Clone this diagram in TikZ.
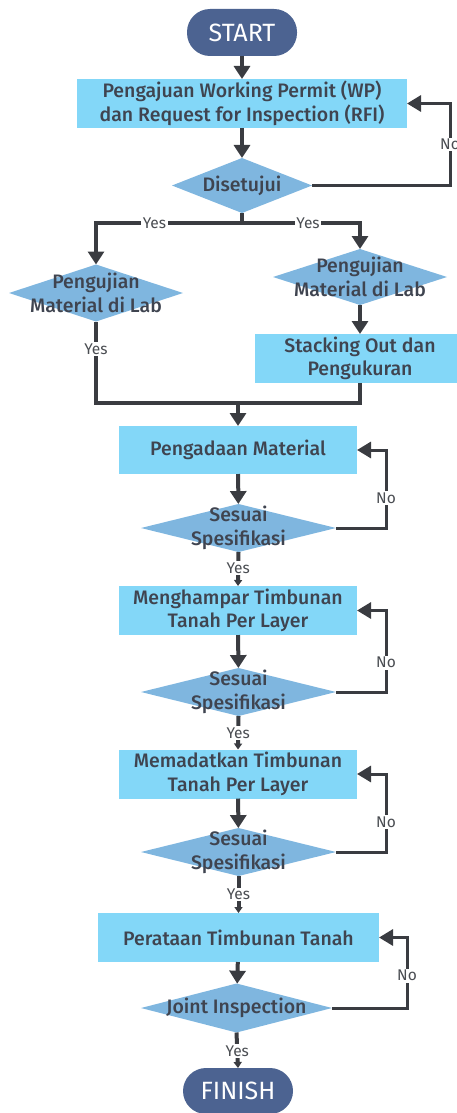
\documentclass[tikz,border=0pt]{standalone}
\usepackage{fontspec}
\setmainfont{Fira Sans}[UprightFont=* Medium]
\newfontfamily\lblfont{Fira Sans}
\usetikzlibrary{shapes.geometric, arrows.meta}
\definecolor{termblue}{HTML}{4C6391}
\definecolor{boxblue}{HTML}{83D7F8}
\definecolor{diablue}{HTML}{7FB6DF}
\definecolor{inkgray}{HTML}{3F4450}
\definecolor{linegray}{HTML}{3A3C41}
\definecolor{lblgray}{HTML}{4A4D52}

\begin{document}
\begin{tikzpicture}[
    x=1pt, y=-1pt,
    every node/.style={inner sep=0pt, outer sep=0pt},
    term/.style={fill=termblue, rounded corners=23pt, minimum width=110pt, minimum height=47pt,
      text=white, font=\lblfont\fontsize{25}{29}\selectfont},
    proc/.style={fill=boxblue, minimum height=49pt, text=inkgray, align=center,
      font=\fontsize{19.5}{23.5}\selectfont},
    dec/.style={diamond, fill=diablue},
    dtxt/.style={text=inkgray, align=center, font=\fontsize{19.5}{23.5}\selectfont},
    link/.style={draw=linegray, line width=3.2pt},
    arr/.style={draw=linegray, line width=4pt, -{Triangle[width=16pt,length=13pt]}},
    back/.style={draw=linegray, line width=3pt, -{Triangle[width=16pt,length=14pt]}},
    yesarr/.style={draw=linegray, line width=4pt, -{Triangle[width=8pt,length=6pt]}},
    lbl/.style={fill=white, text=lblgray, inner sep=1.5pt, font=\lblfont\fontsize{15.5}{17}\selectfont}
  ]
  \useasboundingbox (0,0) rectangle (456,1113);

  \node[term] (start) at (242,32.5) {START};
  \node[proc, minimum width=330pt] (wp) at (242,103.5) {Pengajuan Working Permit (WP)\\dan Request for Inspection (RFI)};
  \node[dec, minimum width=140pt, minimum height=55pt] (setuju) at (242,185.5) {};
  \node[dtxt] (setujutxt) at (setuju) {Disetujui};

  \node[dec, minimum width=174pt, minimum height=57pt] (labL) at (96,293) {};
  \node[dtxt] (labLtxt) at (labL) {Pengujian\\Material di Lab};
  \node[dec, minimum width=174pt, minimum height=56pt] (labR) at (360,277) {};
  \node[dtxt] (labRtxt) at (labR) {Pengujian\\Material di Lab};
  \node[proc, minimum width=210pt] (stack) at (360,358.5) {Stacking Out dan\\Pengukuran};
  \coordinate (merge) at (238,403);

  \node[proc, minimum width=238pt, minimum height=48pt] (adaan) at (238,450) {Pengadaan Material};
  \node[dec, minimum width=195pt, minimum height=48pt] (cek1) at (238.5,528) {};
  \node[dtxt] (cek1txt) at (cek1) {Sesuai\\Spesifikasi};

  \node[proc, minimum width=238pt] (hampar) at (238,610.5) {Menghampar Timbunan\\Tanah Per Layer};
  \node[dec, minimum width=195pt, minimum height=48pt] (cek2) at (238.5,692) {};
  \node[dtxt] (cek2txt) at (cek2) {Sesuai\\Spesifikasi};

  \node[proc, minimum width=238pt] (padat) at (238,774) {Memadatkan Timbunan\\Tanah Per Layer};
  \node[dec, minimum width=195pt, minimum height=48pt] (cek3) at (238.5,852) {};
  \node[dtxt] (cek3txt) at (cek3) {Sesuai\\Spesifikasi};

  \node[proc, minimum width=281pt] (rata) at (238.5,937.5) {Perataan Timbunan Tanah};
  \node[dec, minimum width=191pt, minimum height=49pt] (joint) at (236.5,1008) {};
  \node[dtxt] (jointtxt) at (joint) {Joint Inspection};

  \node[term, minimum height=46pt] (finish) at (238,1091) {FINISH};

  \draw[arr] (start) -- (wp);
  \draw[arr] (wp) -- (setuju);
  \draw[back] (setuju.east) -- ++(138,0) |- node[lbl, pos=0.25]{No} (wp.east);
  \draw[link] (setuju.south) -- ++(0,10) coordinate (split);
  \draw[arr, line width=3.2pt] (split) -| node[lbl, pos=0.3]{Yes} (labL.north);
  \draw[arr, line width=3.2pt] (split) -| node[lbl, pos=0.28]{Yes} (labR.north);
  \draw[arr] (labR) -- (stack);
  \draw[link] (labL.south) -- node[lbl, pos=0.34]{Yes} (labL.south |- merge) -| (stack.south);
  \draw[arr] (merge) -- (adaan.north);

  \draw[arr] (adaan) -- (cek1);
  \draw[back] (cek1.east) -- ++(50,0) |- node[lbl, pos=0.19]{No} (adaan.east);
  \draw[yesarr] (cek1.south) -- node[lbl, pos=0.47]{Yes} (hampar.north);
  \draw[arr] (hampar) -- (cek2);
  \draw[back] (cek2.east) -- ++(50,0) |- node[lbl, pos=0.18]{No} (hampar.east);
  \draw[yesarr] (cek2.south) -- node[lbl, pos=0.5]{Yes} (padat.north);
  \draw[arr] (padat) -- (cek3);
  \draw[back] (cek3.east) -- ++(50,0) |- node[lbl, pos=0.19]{No} (padat.east);
  \draw[yesarr] (cek3.south) -- node[lbl, pos=0.5]{Yes} (rata.north);
  \draw[arr] (rata) -- (joint);
  \draw[back] (joint.east) -- ++(75,0) |- node[lbl, pos=0.23]{No} (rata.east);
  \draw[yesarr] (joint.south) -- node[lbl, pos=0.52]{Yes} (finish.north);
\end{tikzpicture}
\end{document}
